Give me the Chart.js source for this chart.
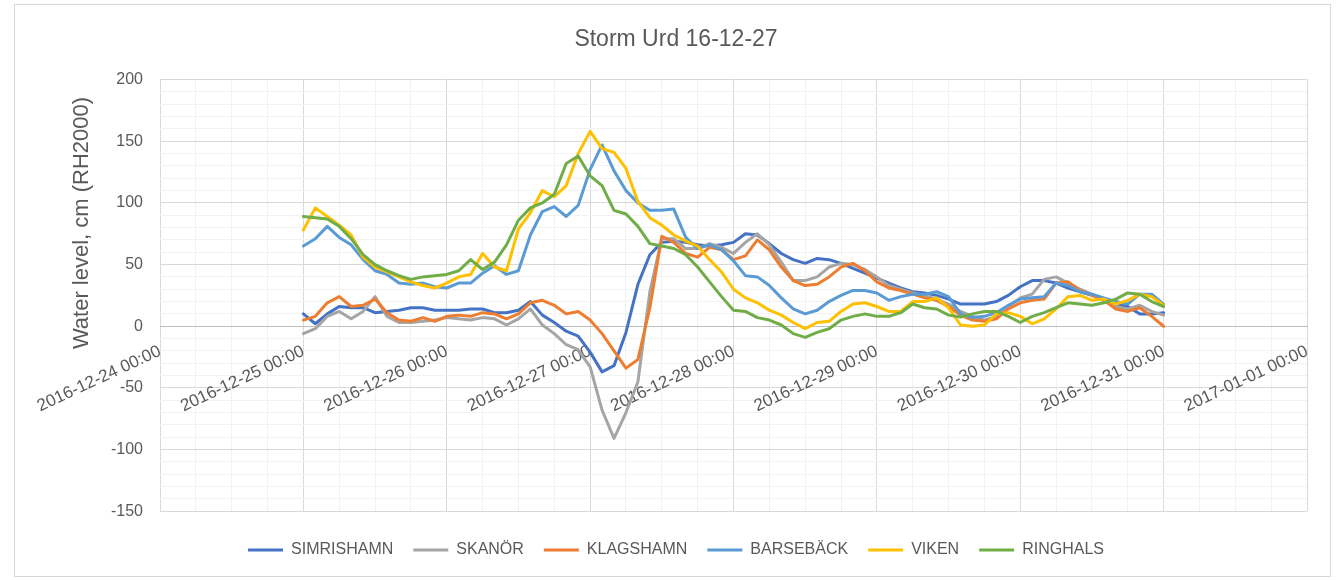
<!DOCTYPE html>
<html>
<head>
<meta charset="utf-8">
<title>Storm Urd 16-12-27</title>
<script src="https://cdn.jsdelivr.net/npm/chart.js@4.4.1/dist/chart.umd.min.js"></script>
<style>
  html, body { margin: 0; padding: 0; background: #fff; }
</style>
</head>
<body>
<canvas id="stormChart" width="1342" height="580"></canvas>
<script>
// hours since 2016-12-24 00:00, one reading every 2 hours
const hours = [
  24, 26, 28, 30, 32, 34, 36, 38, 40, 42, 44, 46,
  48, 50, 52, 54, 56, 58, 60, 62, 64, 66, 68, 70,
  72, 74, 76, 78, 80, 82, 84, 86, 88, 90, 92, 94,
  96, 98, 100, 102, 104, 106, 108, 110, 112, 114, 116, 118,
  120, 122, 124, 126, 128, 130, 132, 134, 136, 138, 140, 142,
  144, 146, 148, 150, 152, 154, 156, 158, 160, 162, 164, 166,
  168
];

const dayLabels = [
  '2016-12-24 00:00', '2016-12-25 00:00', '2016-12-26 00:00',
  '2016-12-27 00:00', '2016-12-28 00:00', '2016-12-29 00:00',
  '2016-12-30 00:00', '2016-12-31 00:00', '2017-01-01 00:00'
];

const stations = ['SIMRISHAMN', 'SKANÖR', 'KLAGSHAMN', 'BARSEBÄCK', 'VIKEN', 'RINGHALS'];

const simrishamn = [
  10, 2, 10, 16, 15, 15, 11, 12, 13, 15, 15, 13,
  13, 13, 14, 14, 11, 11, 13, 20, 9, 3, -4, -8,
  -21, -37, -32, -5, 34, 58, 68, 69, 68, 66, 65, 66,
  68, 75, 74, 67, 59, 54, 51, 55, 54, 51, 47, 43,
  39, 35, 31, 28, 27, 25, 22, 18, 18, 18, 20, 25,
  32, 37, 37, 35, 31, 28, 25, 22, 18, 16, 10, 10,
  11
];
const skanor = [
  -6, -2, 8, 12, 6, 12, 24, 8, 3, 3, 4, 5,
  7, 6, 5, 7, 6, 1, 6, 14, 1, -6, -15, -19,
  -33, -68, -91, -70, -45, 28, 71, 71, 63, 63, 67, 64,
  59, 68, 75, 66, 52, 37, 37, 40, 48, 51, 50, 46,
  40, 33, 30, 27, 25, 22, 18, 12, 8, 5, 8, 16,
  23, 26, 38, 40, 35, 30, 26, 21, 16, 14, 17, 12,
  9
];
const klagshamn = [
  5, 8, 19, 24, 16, 17, 22, 11, 5, 4, 7, 4,
  8, 9, 8, 11, 10, 6, 10, 19, 21, 17, 10, 12,
  5, -6, -20, -34, -27, 15, 73, 68, 59, 56, 64, 62,
  54, 57, 70, 62, 48, 37, 33, 34, 40, 48, 51, 45,
  36, 31, 29, 26, 23, 21, 16, 9, 5, 4, 6, 14,
  19, 21, 22, 35, 36, 29, 25, 21, 14, 12, 15, 8,
  0
];
const barseback = [
  65, 71, 81, 72, 66, 54, 45, 42, 35, 34, 35, 32,
  31, 35, 35, 43, 49, 42, 45, 74, 93, 97, 89, 98,
  127, 147, 126, 110, 100, 94, 94, 95, 72, 63, 66, 62,
  53, 41, 40, 33, 23, 14, 10, 13, 20, 25, 29, 29,
  27, 21, 24, 26, 26, 28, 24, 10, 7, 8, 11, 17,
  22, 23, 24, 35, 33, 28, 26, 23, 20, 18, 26, 26,
  18
];
const viken = [
  78, 96, 89, 82, 74, 56, 48, 44, 40, 36, 33, 31,
  35, 40, 42, 59, 48, 45, 79, 92, 110, 105, 114, 140,
  158, 144, 141, 128, 101, 88, 82, 74, 69, 65, 54, 44,
  30, 23, 19, 13, 9, 3, -2, 3, 4, 12, 18, 19,
  16, 12, 12, 20, 20, 23, 15, 1, 0, 1, 10, 11,
  8, 2, 6, 14, 24, 25, 21, 22, 18, 21, 26, 24,
  17
];
const ringhals = [
  89, 88, 87, 81, 71, 58, 50, 45, 41, 38, 40, 41,
  42, 45, 54, 46, 52, 66, 86, 96, 100, 107, 132, 138,
  122, 114, 94, 91, 81, 67, 65, 63, 58, 48, 36, 24,
  13, 12, 7, 5, 1, -6, -9, -5, -2, 5, 8, 10,
  8, 8, 11, 18, 15, 14, 9, 7.5, 10, 12, 12, 8,
  3, 8, 11, 15, 19, 18, 17, 19, 22, 27, 26, 20,
  16
];

const series = [simrishamn, skanor, klagshamn, barseback, viken, ringhals];
const lineColors = ['#4472C4', '#A5A5A5', '#ED7D31', '#5B9BD5', '#FFC000', '#70AD47'];

const textColor = '#595959';
Chart.defaults.font.family = '"Liberation Sans", Arial, sans-serif';
Chart.defaults.color = textColor;

// outer chart frame like the spreadsheet chart object
const chartFrame = {
  id: 'chartFrame',
  beforeDraw(chart) {
    const ctx = chart.ctx;
    ctx.save();
    ctx.fillStyle = '#ffffff';
    ctx.fillRect(0, 0, chart.width, chart.height);
    ctx.strokeStyle = '#d9d9d9';
    ctx.lineWidth = 1;
    ctx.strokeRect(14.5, 4.5, 1316, 572);
    ctx.restore();
  }
};

// vertical axis title, placed where the original has it
const yAxisTitle = {
  id: 'yAxisTitle',
  afterDraw(chart) {
    const ctx = chart.ctx;
    ctx.save();
    ctx.translate(82, 223);
    ctx.rotate(-Math.PI / 2);
    ctx.font = '22px "Liberation Sans", Arial, sans-serif';
    ctx.fillStyle = textColor;
    ctx.textAlign = 'center';
    ctx.textBaseline = 'middle';
    ctx.fillText('Water level, cm (RH2000)', 0, 0);
    ctx.restore();
  }
};

const datasets = stations.map((name, i) => ({
  label: name,
  data: hours.map((h, j) => ({ x: h, y: series[i][j] })),
  borderColor: lineColors[i],
  backgroundColor: lineColors[i],
  borderWidth: 3,
  pointRadius: 0,
  pointHoverRadius: 0,
  tension: 0,
  borderJoinStyle: 'round',
  borderCapStyle: 'round',
  order: stations.length - i
}));

new Chart(document.getElementById('stormChart'), {
  type: 'line',
  data: { datasets },
  plugins: [chartFrame, yAxisTitle],
  options: {
    responsive: false,
    animation: false,
    devicePixelRatio: 1,
    layout: { padding: { left: 45, right: 35, top: 0, bottom: 12 } },
    plugins: {
      title: {
        display: true,
        text: 'Storm Urd 16-12-27',
        color: textColor,
        font: { size: 23, weight: 'normal' },
        padding: { top: 26, bottom: 26 }
      },
      legend: {
        position: 'bottom',
        // empty title only pushes the legend row down a little
        title: { display: true, text: '', font: { size: 9 }, padding: 0 },
        labels: {
          color: textColor,
          font: { size: 16 },
          usePointStyle: true,
          pointStyle: 'line',
          pointStyleWidth: 35,
          padding: 20,
          sort: (a, b) => a.datasetIndex - b.datasetIndex
        }
      },
      tooltip: { enabled: false }
    },
    scales: {
      x: {
        type: 'linear',
        position: { y: 0 },
        min: 0,
        max: 192,
        grid: {
          drawTicks: false,
          color: (c) => (c.tick && c.tick.value % 24 === 0 ? '#d9d9d9' : '#f2f2f2')
        },
        border: { display: true, color: '#bfbfbf', width: 1 },
        ticks: {
          stepSize: 6,
          maxTicksLimit: 100,
          autoSkip: false,
          minRotation: 25,
          maxRotation: 25,
          padding: 15,
          color: textColor,
          font: { size: 17 },
          callback: (v) => (v % 24 === 0 ? dayLabels[v / 24] : '')
        }
      },
      y: {
        min: -150,
        max: 200,
        afterFit: (scale) => { scale.width = 115; },
        grid: {
          drawTicks: false,
          color: (c) => {
            if (!c.tick) return '#f2f2f2';
            if (c.tick.value === 0) return '#bfbfbf';
            return c.tick.value % 50 === 0 ? '#d9d9d9' : '#f2f2f2';
          }
        },
        border: { display: false },
        ticks: {
          stepSize: 10,
          maxTicksLimit: 100,
          autoSkip: false,
          padding: 17,
          color: textColor,
          font: { size: 16 },
          callback: (v) => (v % 50 === 0 ? v : '')
        }
      }
    }
  }
});
</script>
</body>
</html>
